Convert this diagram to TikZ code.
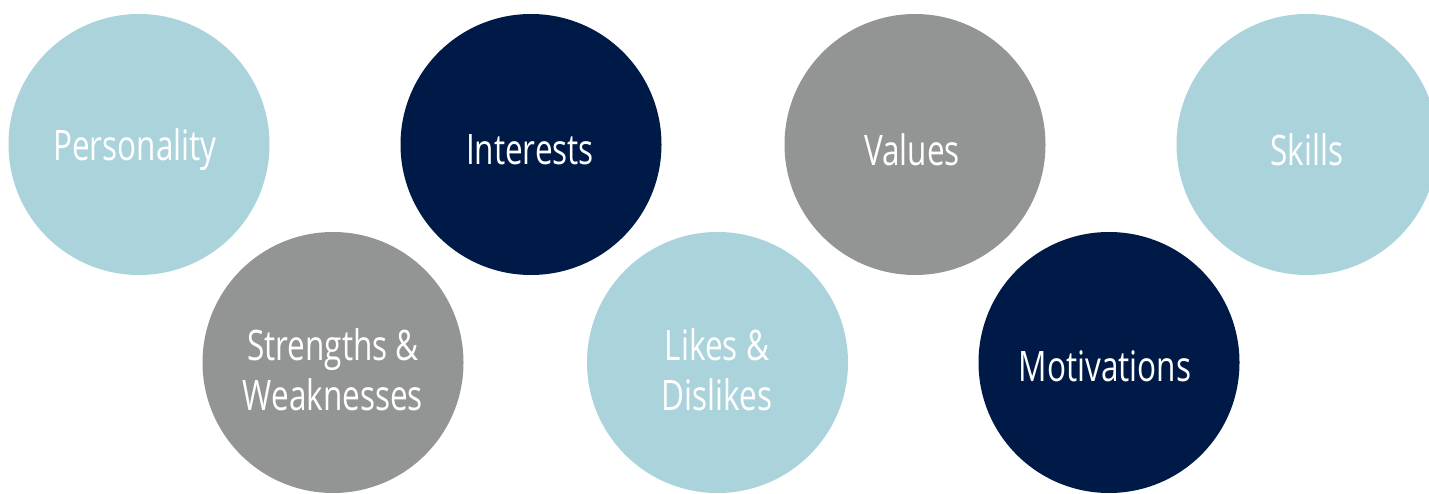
\documentclass[tikz,border=0pt]{standalone}
\usepackage{fontspec}
\setmainfont{Open Sans}[FakeStretch=0.75]
\definecolor{lightblue}{HTML}{ABD3DC}
\definecolor{navy}{HTML}{001A47}
\definecolor{midgray}{HTML}{939594}
\begin{document}
\begin{tikzpicture}[x=1pt,y=1pt,
  bubble/.style={circle,minimum size=261pt,inner sep=0pt,draw=none},
  label/.style={text=white,font=\fontsize{42}{50}\selectfont,align=center,inner sep=0pt}]
\useasboundingbox (0,0) rectangle (1429,493);
\begin{scope}
\clip (0,0) rectangle (1429,493);
\node[bubble,fill=lightblue] (personality) at (139,348.5) {};
\node[bubble,fill=navy] (interests) at (531,348.5) {};
\node[bubble,fill=midgray] (values) at (915,348.5) {};
\node[bubble,fill=lightblue] (skills) at (1307,348.5) {};
\node[bubble,fill=midgray] (strengths) at (333,130.5) {};
\node[bubble,fill=lightblue] (likes) at (717.5,130.5) {};
\node[bubble,fill=navy] (motivations) at (1109,130.5) {};
\end{scope}
\node[label] (tpersonality) at (135,343.5) {Personality};
\node[label] (tinterests) at (530,343.5) {Interests};
\node[label] (tvalues) at (912,343.5) {Values};
\node[label] (tskills) at (1307,343.5) {Skills};
\node[label] (tstrengths) at (333,123) {Strengths \&\\Weaknesses};
\node[label] (tlikes) at (717,123) {Likes \&\\Dislikes};
\node[label] (tmotivations) at (1105,127) {Motivations};
\end{tikzpicture}
\end{document}
